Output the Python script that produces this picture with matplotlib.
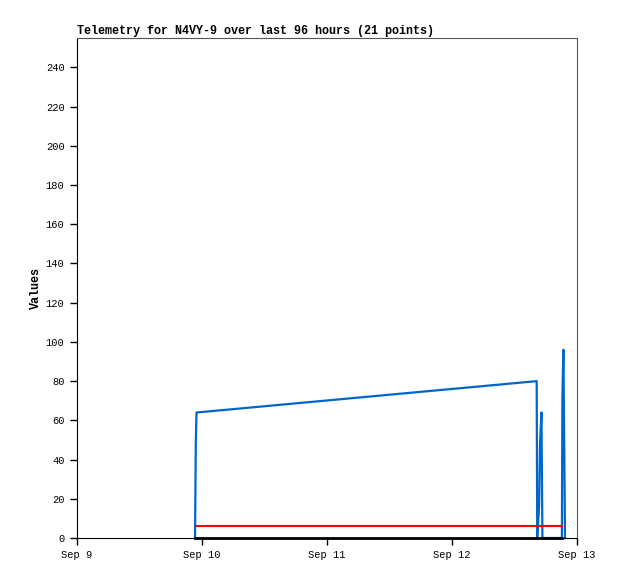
#!/usr/bin/env python3
# -*- coding: utf-8 -*-
from datetime import datetime, timedelta

import matplotlib
matplotlib.use('Agg')
import matplotlib.pyplot as plt
import matplotlib.dates as mdates
from matplotlib.ticker import FuncFormatter

TITLE = 'Telemetry for N4VY-9 over last 96 hours (21 points)'
Y_LABEL = 'Values'
MONO = 'Liberation Mono'

START = datetime(2024, 9, 9)

# hours since Sep 9 00:00
blue_hours = [22.66, 22.71, 22.81, 22.94, 88.26, 88.36, 88.72, 88.90, 89.18,
              89.36, 93.10, 93.20, 93.39, 93.70]
blue_values = [0, 16, 48, 64, 80, 0, 16, 48, 64, 0, 0, 72, 96, 0]

red_hours = [22.85, 93.10]
red_values = [6, 6]

black_hours = [22.66, 93.10]
black_values = [0, 0]

day_ticks = [START + timedelta(days=d) for d in range(5)]
y_ticks = list(range(0, 241, 20))


def to_dates(hours):
    return [START + timedelta(hours=h) for h in hours]


fig = plt.figure(figsize=(6.18, 5.79), dpi=100)
ax = fig.add_axes([77 / 618, 41 / 579, 500 / 618, 500 / 579])

ax.plot(to_dates(blue_hours), blue_values, color='#0066cc', lw=1.6, clip_on=False)
ax.plot(to_dates(red_hours), red_values, color='#ff0000', lw=1.5, clip_on=False)
ax.plot(to_dates(black_hours), black_values, color='black', lw=2, clip_on=False)

ax.set_xlim(day_ticks[0], day_ticks[-1])
ax.set_ylim(0, 255)
ax.set_xticks(day_ticks)
ax.set_yticks(y_ticks)
ax.xaxis.set_major_formatter(FuncFormatter(
    lambda v, pos: mdates.num2date(v).strftime('%b ') + str(mdates.num2date(v).day)))

ax.tick_params(direction='out', length=5, width=1, labelsize=7.5, pad=4)
for lbl in ax.get_xticklabels() + ax.get_yticklabels():
    lbl.set_family(MONO)

ax.spines['left'].set_color('black')
ax.spines['bottom'].set_color('black')
ax.spines['top'].set_color('#555555')
ax.spines['right'].set_color('#555555')

ax.set_title(TITLE, loc='left', fontsize=8.5, fontweight='bold', family=MONO, pad=3)
ax.set_ylabel(Y_LABEL, fontsize=8.5, fontweight='bold', family=MONO, labelpad=3)

fig.savefig('out.png', dpi=100)
